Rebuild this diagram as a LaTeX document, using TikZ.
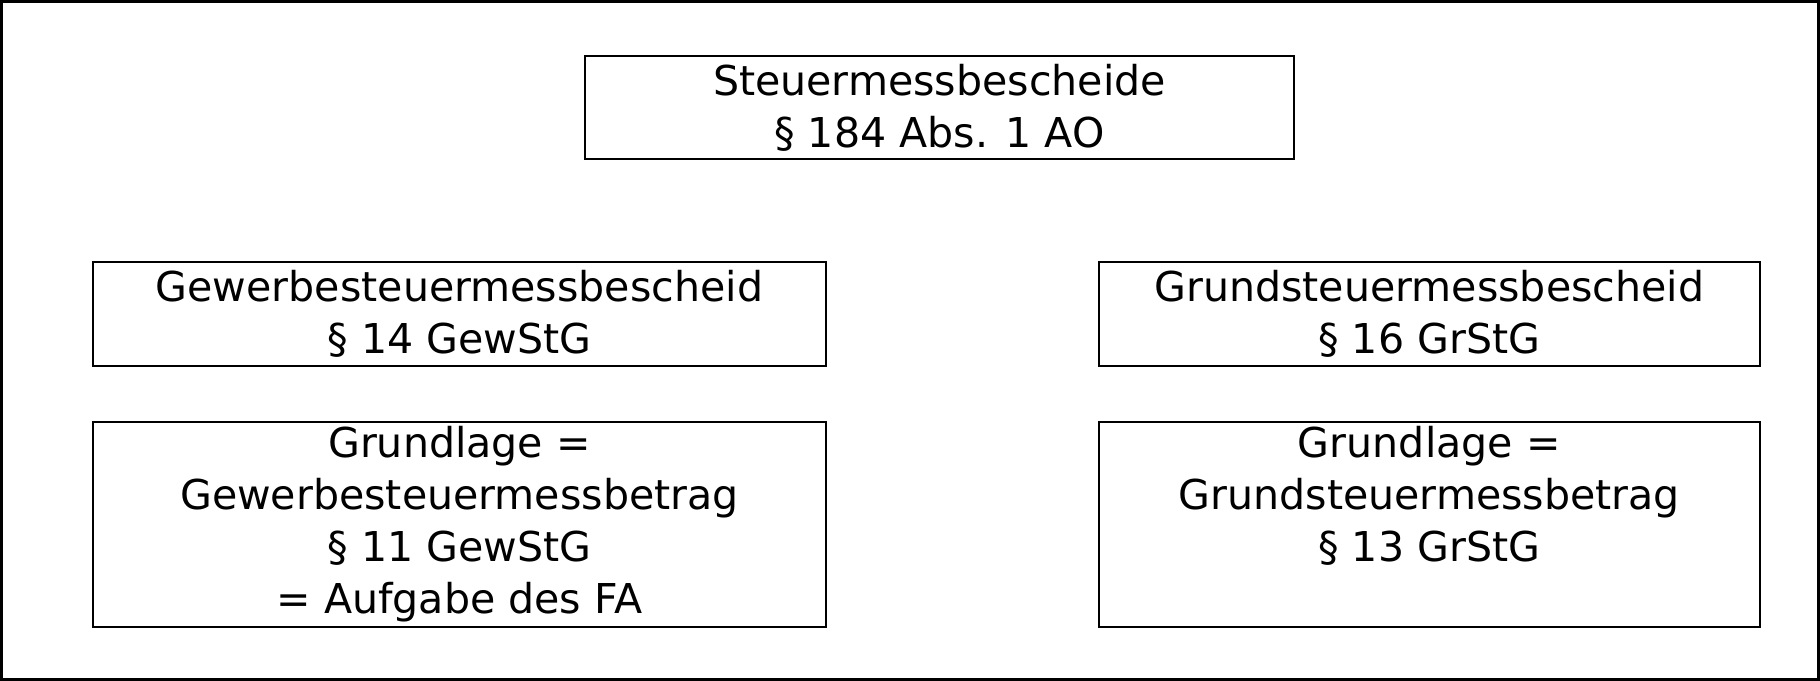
\documentclass[tikz,border=0pt]{standalone}
\usepackage{fontspec}
\setmainfont{DejaVu Sans}
\usepackage{tikz}
\usetikzlibrary{positioning}
\tikzstyle{frame} = [line width=0.8pt]
\tikzstyle{bescheid} = [rectangle, draw=black, line width=0.5pt, inner sep=0pt, align=center, font=\fontsize{11.7}{14.8}\selectfont]

\begin{document}
\begin{tikzpicture}[node distance=0.54cm]
          \useasboundingbox (0,0) rectangle (18.2,-6.81);
          \draw [frame] (0.014,-0.014) rectangle (18.186,-6.796);
          \node (top) [bescheid, minimum width=7.09cm, minimum height=1.03cm] at (9.395,-1.075) {Steuermessbescheide\\§ 184 Abs. 1 AO};
          \node (gew) [bescheid, minimum width=7.33cm, minimum height=1.04cm] at (4.595,-3.14) {Gewerbesteuermessbescheid\\§ 14 GewStG};
          \node (grund) [bescheid, minimum width=6.61cm, minimum height=1.04cm, right=2.71cm of gew] {Grundsteuermessbescheid\\§ 16 GrStG};
          \node (gewbasis) [bescheid, minimum width=7.33cm, minimum height=2.05cm, below=of gew] {Grundlage =\\Gewerbesteuermessbetrag\\§ 11 GewStG\\= Aufgabe des FA};
          \node (grundbasis) [bescheid, minimum width=6.61cm, minimum height=2.05cm, below=of grund] {Grundlage =\\Grundsteuermessbetrag\\§ 13 GrStG\\\vphantom{Ag}};
        \end{tikzpicture}
\end{document}
